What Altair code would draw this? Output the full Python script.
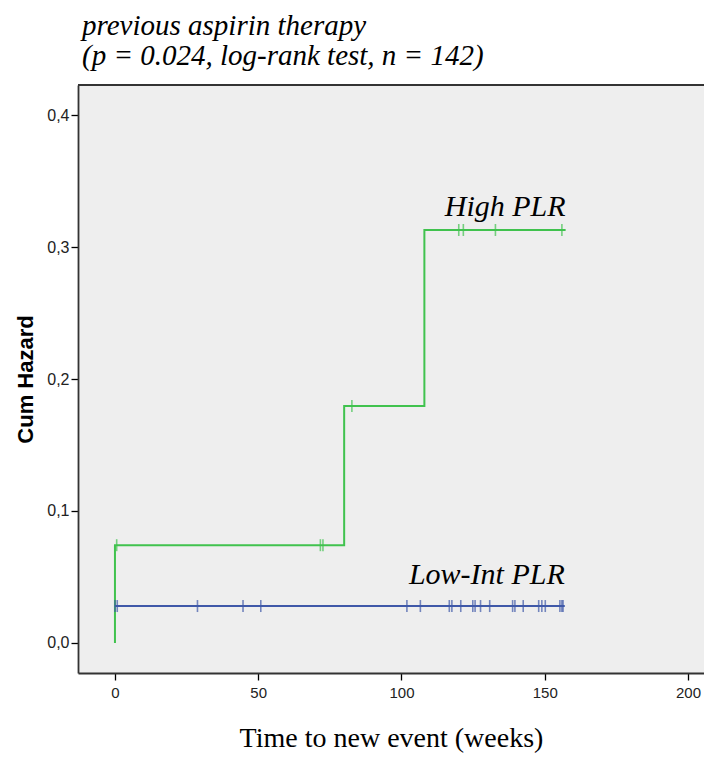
import altair as alt
import pandas as pd

# ---- data ----
high_t = [0, 0, 80, 108, 157.3]
high_h = [0.0, 0.0741, 0.1795, 0.3129, 0.3129]
low_t = [0, 157]
low_h = [0.028, 0.028]

high_cens_t = [0.6, 71.7, 72.6, 82.7, 120.0, 121.6, 132.8, 156.0]
high_cens_h = [0.0741, 0.0741, 0.0741, 0.1795, 0.3129, 0.3129, 0.3129, 0.3129]
low_cens_t = [0.0, 0.8, 28.8, 44.7, 50.9, 101.9, 106.6, 116.7, 117.6, 120.7,
              124.9, 125.7, 127.6, 130.8, 138.8, 139.6, 142.5, 147.9, 149.0,
              150.2, 155.3, 156.0, 156.4]

groups = ["High PLR", "Low-Int PLR"]
colors = ["#40c24e", "#3f58a8"]

x_ticks = [0, 50, 100, 150, 200]
y_ticks = [0.0, 0.1, 0.2, 0.3, 0.4]
x_domain = [-12.9, 205.6]
y_domain = [-0.02273, 0.42273]

W, H = 626, 588

lines = pd.DataFrame({
    "t": high_t + low_t,
    "h": high_h + low_h,
    "g": [groups[0]] * len(high_t) + [groups[1]] * len(low_t),
    "o": list(range(len(high_t))) + list(range(len(low_t))),
})
cens = pd.DataFrame({
    "t": high_cens_t + low_cens_t,
    "h": high_cens_h + [low_h[-1]] * len(low_cens_t),
    "g": [groups[0]] * len(high_cens_t) + [groups[1]] * len(low_cens_t),
})
lab_high = pd.DataFrame({"t": [high_t[-1]], "h": [high_h[-1]], "g": [groups[0]]})
lab_low = pd.DataFrame({"t": [low_t[-1]], "h": [low_h[-1]], "g": [groups[1]]})

frame_color = "#333333"

x_enc = alt.X("t:Q", scale=alt.Scale(domain=x_domain, nice=False, zero=False),
              axis=alt.Axis(values=x_ticks, title="Time to new event (weeks)",
                            grid=False, domain=True, domainColor=frame_color, domainWidth=1.8,
                            tickSize=7, tickColor="black", tickWidth=1.3,
                            labelFont="Liberation Sans", labelFontSize=15, labelColor="#222222",
                            labelPadding=5, titleFont="Liberation Serif", titleFontSize=28,
                            titleFontWeight="normal", titleColor="black", titlePadding=24))
y_enc = alt.Y("h:Q", scale=alt.Scale(domain=y_domain, nice=False, zero=False),
              axis=alt.Axis(values=y_ticks, title="Cum Hazard", grid=False,
                            domain=True, domainColor=frame_color, domainWidth=1.8,
                            tickSize=7, tickColor="black", tickWidth=1.3,
                            labelExpr="replace(format(datum.value, '.1f'), '.', ',')",
                            labelFont="Liberation Sans", labelFontSize=16, labelColor="#222222",
                            labelPadding=2, titleFont="Liberation Sans", titleFontSize=22,
                            titleFontWeight="bold", titleColor="black", titlePadding=9))
color_enc = alt.Color("g:N", scale=alt.Scale(domain=groups, range=colors), legend=None)

line_layer = alt.Chart(lines).mark_line(interpolate="step-after", strokeWidth=2).encode(
    x=x_enc, y=y_enc, color=color_enc, order="o:Q", detail="g:N")
tick_layer = alt.Chart(cens).mark_tick(orient="vertical", size=12, thickness=1.6).encode(
    x="t:Q", y="h:Q", color=color_enc)
text_style = dict(align="right", baseline="alphabetic", font="Liberation Serif",
                  fontStyle="italic", fontSize=30, color="black")
t_high = alt.Chart(lab_high).mark_text(dy=-14, **text_style).encode(x="t:Q", y="h:Q", text="g:N")
t_low = alt.Chart(lab_low).mark_text(dy=-22, **text_style).encode(x="t:Q", y="h:Q", text="g:N")

top_border = alt.Chart(lab_high).mark_rule(color=frame_color, strokeWidth=1.8).encode(
    x=alt.value(0), x2=alt.value(W), y=alt.value(0))

chart = alt.layer(line_layer, tick_layer, t_high, t_low, top_border).properties(
    width=W, height=H,
    autosize=alt.AutoSizeParams(type="none"),
    padding={"left": 70, "top": 77, "right": 0, "bottom": 87},
    title=alt.Title(text=["previous aspirin therapy", "(p = 0.024, log-rank test, n = 142)"],
                    anchor="start", frame="group", font="Liberation Serif", fontSize=29,
                    fontStyle="italic", fontWeight="normal", color="black",
                    lineHeight=30, offset=13, dx=4),
).configure(background="white").configure_view(fill="#eeeeee", strokeOpacity=0)

chart.save("out.html", embed_options={"renderer": "svg", "actions": False})
